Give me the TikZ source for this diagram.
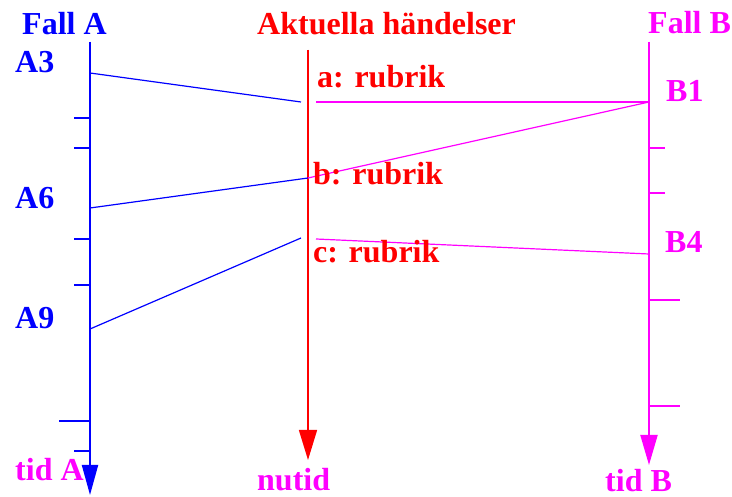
\documentclass[tikz,border=0pt]{standalone}
\usepackage{fontspec}
\setmainfont{Liberation Serif}
\usetikzlibrary{arrows.meta}
\definecolor{cA}{RGB}{0,0,255}
\definecolor{cR}{RGB}{255,0,0}
\definecolor{cB}{RGB}{255,0,255}
\tikzset{
  lbl/.style={inner sep=0pt, anchor=base west, font=\fontsize{32}{36}\selectfont\bfseries},
  axisA/.style={draw=cA, line width=2pt, -{Triangle[length=30pt,width=16pt]}, fill=cA},
  axisR/.style={draw=cR, line width=1.5pt, -{Triangle[length=30pt,width=18pt]}, fill=cR},
  axisB/.style={draw=cB, line width=2pt, -{Triangle[length=30pt,width=17pt]}, fill=cB},
  tickA/.style={draw=cA, line width=2pt},
  tickB/.style={draw=cB, line width=2pt},
  linkA/.style={draw=cA, line width=1.2pt},
  linkB/.style={draw=cB, line width=1.2pt},
}
\begin{document}
\begin{tikzpicture}[x=1pt,y=-1pt]
\useasboundingbox (0,0) rectangle (732,497);
% axes
\coordinate (Atop) at (90,42);
\coordinate (Abot) at (90,495);
\coordinate (Rtop) at (308,50);
\coordinate (Rbot) at (308,460);
\coordinate (Btop) at (649,42);
\coordinate (Bbot) at (649,465);
\draw[axisA] (Atop) -- (Abot);
\draw[axisR] (Rtop) -- (Rbot);
\draw[axisB] (Btop) -- (Bbot);
% ticks on A
\foreach \y/\l in {118/74,148/74,239/74,285/74,421/59,451/74}
  \draw[tickA] (\l,\y) -- (90,\y);
% ticks on B
\foreach \y/\r in {148/665,193/665,300/680,406/680}
  \draw[tickB] (649,\y) -- (\r,\y);
% event points
\coordinate (A3) at (90,73);
\coordinate (A6) at (90,208);
\coordinate (A9) at (90,329);
\coordinate (B1) at (649,102);
\coordinate (B4) at (649,254);
\coordinate (aL) at (301,102);
\coordinate (aR) at (316,102);
\coordinate (bM) at (308,178);
\coordinate (cL) at (301,238);
\coordinate (cR) at (316,239);
\draw[linkA] (A3) -- (aL);
\draw[linkB] (aR) -- (B1);
\draw[linkA] (A6) -- (bM);
\draw[linkB] (bM) -- (B1);
\draw[linkA] (A9) -- (cL);
\draw[linkB] (cR) -- (B4);
% labels
\node[lbl, text=cA] (tFallA) at (22,35) {Fall A};
\node[lbl, text=cA] (tA3) at (15,73) {A3};
\node[lbl, text=cA] (tA6) at (15,209) {A6};
\node[lbl, text=cA] (tA9) at (15,329) {A9};
\node[lbl, text=cB] (ttidA) at (15,481) {tid A};
\node[lbl, text=cR] (tAkt) at (257,35) {Aktuella händelser};
\node[lbl, text=cR] (ta) at (317,88) {a: rubrik};
\node[lbl, text=cR] (tb) at (313,185) {b: rubrik};
\node[lbl, text=cR] (tc) at (313,263) {c: rubrik};
\node[lbl, text=cB] (tnutid) at (257,490) {nutid};
\node[lbl, text=cB] (tFallB) at (648,34) {Fall B};
\node[lbl, text=cB] (tB1) at (666,102) {B1};
\node[lbl, text=cB] (tB4) at (665,253) {B4};
\node[lbl, text=cB] (ttidB) at (605,491) {tid B};
\end{tikzpicture}
\end{document}
